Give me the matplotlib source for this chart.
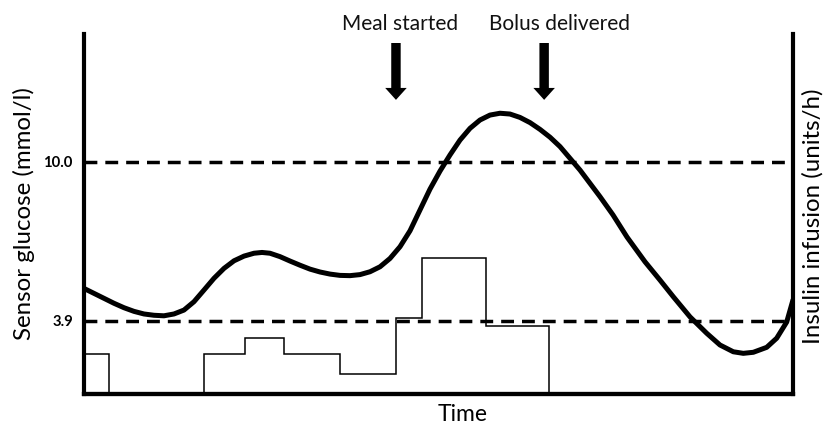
import numpy as np
import matplotlib.pyplot as plt
import matplotlib.transforms as mtransforms

plt.rcParams['font.family'] = ['Lato', 'DejaVu Sans']

# sensor glucose trace (time in arbitrary units 0-100, glucose in mmol/l)
glucose_t = [0.00, 1.41, 2.82, 4.23, 5.64, 7.05, 8.46, 9.87, 11.28, 12.69, 14.10,
             15.51, 16.93, 18.34, 19.75, 21.16, 22.57, 23.98, 25.11, 26.23, 27.64,
             29.06, 30.47, 31.88, 33.29, 34.70, 36.11, 37.52, 38.93, 40.34, 41.75,
             43.16, 44.57, 45.98, 47.39, 48.80, 50.21, 51.62, 53.03, 54.44, 55.85,
             57.26, 58.67, 60.08, 61.49, 62.91, 64.32, 65.73, 67.14, 68.55, 69.96,
             71.37, 72.78, 74.61, 76.59, 79.13, 81.24, 83.12, 85.47, 87.83, 89.70,
             91.58, 92.99, 94.40, 96.29, 97.70, 99.11, 100.0]
glucose_v = [5.14, 4.95, 4.76, 4.57, 4.40, 4.26, 4.16, 4.11, 4.09, 4.16, 4.31,
             4.63, 5.08, 5.53, 5.91, 6.20, 6.38, 6.49, 6.52, 6.49, 6.36,
             6.19, 6.03, 5.88, 5.77, 5.69, 5.64, 5.63, 5.67, 5.78, 5.97,
             6.29, 6.74, 7.35, 8.15, 8.95, 9.64, 10.26, 10.83, 11.28, 11.60,
             11.79, 11.86, 11.83, 11.70, 11.50, 11.24, 10.94, 10.58, 10.13, 9.68,
             9.17, 8.66, 7.96, 7.11, 6.16, 5.46, 4.82, 4.05, 3.42, 2.97,
             2.71, 2.65, 2.69, 2.88, 3.23, 3.85, 4.70]

# insulin infusion rate steps (units/h)
insulin_edges = [0, 3.5, 16.9, 22.7, 28.2, 36.1, 44.0, 47.7, 56.7, 65.6, 100]
insulin_rate = [1.0, 0, 1.0, 1.4, 1.0, 0.5, 1.9, 3.4, 1.7, 0]

thresholds = [3.9, 10.0]
threshold_labels = ['3.9', '10.0']

event_t = [44.0, 64.9]
event_labels = ['Meal started', 'Bolus delivered']
label_shift = [0.6, 2.1]

fig = plt.figure(figsize=(8.27, 4.24), dpi=100)
ax = fig.add_axes([84/827, 1 - 394/424, 709/827, 360/424])
ax2 = ax.twinx()

ax.set_xlim(0, 100)
ax.set_ylim(1.09, 14.9)
ax2.set_ylim(0, 9)

for y in thresholds:
    ax.axhline(y, color='black', lw=2.5, linestyle=(0, (3.7, 2.3)), zorder=2)

ax.plot(glucose_t, glucose_v, color='black', lw=3.6, solid_capstyle='round',
        solid_joinstyle='round', zorder=3)
ax2.stairs(insulin_rate, insulin_edges, baseline=0, color='black', lw=1.1)

for a in (ax, ax2):
    a.spines['top'].set_visible(False)
    for s in ('left', 'right', 'bottom'):
        a.spines[s].set_linewidth(3)
    a.set_xticks([])
ax.spines['right'].set_visible(False)
ax2.spines['left'].set_visible(False)
ax2.set_yticks([])

ax.set_yticks(thresholds)
ax.set_yticklabels(threshold_labels, fontsize=10.7, fontweight='bold')
ax.tick_params(axis='y', length=0, pad=8)

trans = mtransforms.blended_transform_factory(ax.transData, ax.transAxes)
for t, lab, dx in zip(event_t, event_labels, label_shift):
    ax.annotate('', xy=(t, 0.817), xytext=(t, 0.975), xycoords=trans, textcoords=trans,
                arrowprops=dict(arrowstyle='simple,head_length=0.86,head_width=1.55,tail_width=0.68',
                                mutation_scale=10, color='black', lw=0,
                                shrinkA=0, shrinkB=0), annotation_clip=False)
    ax.text(t + dx, 1.011, lab, transform=trans, ha='center', va='baseline',
            fontsize=15, color='#111111', clip_on=False)

fig.text(24/827, 1 - 214/424, 'Sensor glucose (mmol/l)', rotation=90,
         ha='center', va='center', fontsize=17.3)
fig.text(813/827, 1 - 216/424, 'Insulin infusion (units/h)', rotation=90,
         ha='center', va='center', fontsize=17.3)
fig.text(463/827, 1 - 421/424, 'Time', ha='center', va='baseline', fontsize=16.5)

fig.savefig('out.png', dpi=100, facecolor='white')
